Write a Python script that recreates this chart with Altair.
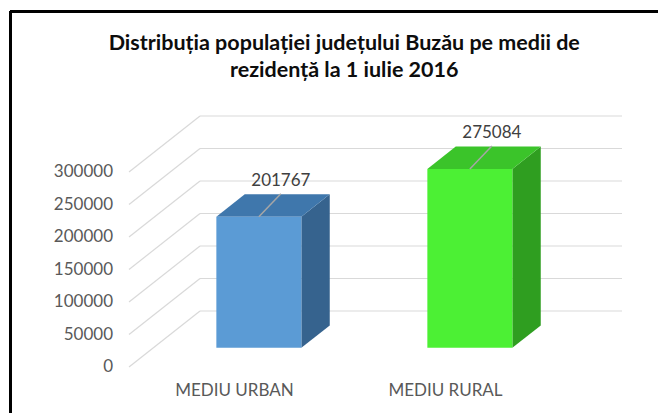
import altair as alt
import pandas as pd

# ---- data ----
categories = ["MEDIU URBAN", "MEDIU RURAL"]
values = [201767, 275084]
y_ticks = [0, 50000, 100000, 150000, 200000, 250000, 300000]
title_lines = ["Distribuția populației județului Buzău pe medii de",
               "rezidență la 1 iulie 2016"]

front_colors = ["#5B9BD5", "#4CF034"]
top_colors = ["#3F77AC", "#3BC42A"]
side_colors = ["#36638E", "#2F9E20"]

# ---- layout / pseudo-3D geometry (pixels) ----
PAD_L, PAD_T = 2.5, 3.5          # plot origin inside the 8px page margin
W, H = 647.5, 414                # plot area (runs to the right edge / below the bottom like the crop)
FLOOR_LEFT = 129 - 8 - PAD_L     # front-left corner of floor, local px
ZERO_Y = 367 - 8 - PAD_T         # front baseline (value 0), local px
SLOT = 211.0                     # px per category
K = 32.5 / 50000                 # px per unit of value
DX_PX, DY_PX = 71.0, 56.0        # full depth offset of the back wall
ZF, ZB = 0.343, 0.743            # bar front / back depth
HALF_W = 42.5 / SLOT             # half bar width (slot units)

DXu = DX_PX / SLOT
DYv = DY_PX / K

x_min = -0.5 + (0 - FLOOR_LEFT) / SLOT
x_max = -0.5 + (W - FLOOR_LEFT) / SLOT
y_max = ZERO_Y / K
y_min = (ZERO_Y - H) / K

xs = alt.Scale(domain=[x_min, x_max], nice=False, zero=False)
ys = alt.Scale(domain=[y_min, y_max], nice=False, zero=False)

# ---- tables built from the arrays ----
ticks = pd.DataFrame({"t": y_ticks})
ticks["xl"] = -0.5
ticks["xb"] = -0.5 + DXu
ticks["xr"] = 1.5 + DXu
ticks["yb"] = ticks["t"] + DYv
ticks["label"] = ticks["t"].astype(str)

bars = pd.DataFrame({"cat": categories, "v": values, "i": range(len(categories))})
bars["x0"] = bars["i"] - HALF_W + ZF * DXu
bars["x1"] = bars["i"] + HALF_W + ZF * DXu
bars["y0"] = ZF * DYv
bars["y1"] = bars["v"] + ZF * DYv
bars["lx"] = bars["i"] + ZF * DXu
bars["lx2"] = bars["lx"] + 22 / SLOT
bars["ly2"] = bars["y1"] + 23 / K
bars["zero"] = 0
bars["label"] = bars["v"].astype(str)

rows = []
for i, (c, v) in enumerate(zip(categories, values)):
    for z in (ZF, ZB):
        rows.append({"cat": c, "sx": i + HALF_W + z * DXu, "sy": z * DYv, "sy2": v + z * DYv,
                     "ty": v + z * DYv, "tx": i - HALF_W + z * DXu, "tx2": i + HALF_W + z * DXu})
faces = pd.DataFrame(rows)

grid = "#D9D9D9"
X = lambda f: alt.X(f, scale=xs, axis=None)
Y = lambda f: alt.Y(f, scale=ys, axis=None)

# chart frame (top and left edges, as in the cropped reference)
frame_top = alt.Chart(ticks).mark_rule(color="black", strokeWidth=3).encode(
    x=alt.X(datum=x_min, scale=xs, axis=None), x2=alt.X2(datum=x_max + 0.1),
    y=alt.Y(datum=y_max, scale=ys, axis=None))
frame_left = alt.Chart(ticks).mark_rule(color="black", strokeWidth=3).encode(
    x=alt.X(datum=x_min, scale=xs, axis=None),
    y=alt.Y(datum=y_min, scale=ys, axis=None), y2=alt.Y2(datum=y_max))

back_lines = alt.Chart(ticks).mark_rule(color=grid, strokeWidth=1.2).encode(
    x=X("xb:Q"), x2="xr:Q", y=Y("yb:Q"))

side_lines = alt.Chart(ticks).mark_rule(color=grid, strokeWidth=1.2).encode(
    x=X("xl:Q"), x2="xb:Q", y=Y("t:Q"), y2="yb:Q")

tick_labels = alt.Chart(ticks).mark_text(
    align="right", baseline="middle", dx=-16, font="Lato", fontSize=17, color="#595959"
).encode(x=X("xl:Q"), y=Y("t:Q"), text="label:N")

side = alt.Chart(faces).mark_area(interpolate="linear", opacity=1).encode(
    x=X("sx:Q"), y=Y("sy:Q"), y2="sy2:Q",
    color=alt.Color("cat:N", scale=alt.Scale(domain=categories, range=side_colors), legend=None))

top = alt.Chart(faces).mark_area(orient="horizontal", interpolate="linear", opacity=1).encode(
    y=Y("ty:Q"), x=X("tx:Q"), x2="tx2:Q",
    color=alt.Color("cat:N", scale=alt.Scale(domain=categories, range=top_colors), legend=None))

front = alt.Chart(bars).mark_rect().encode(
    x=X("x0:Q"), x2="x1:Q", y=Y("y0:Q"), y2="y1:Q",
    color=alt.Color("cat:N", scale=alt.Scale(domain=categories, range=front_colors), legend=None))

leaders = alt.Chart(bars).mark_rule(color="#A6A6A6", strokeWidth=1.5).encode(
    x=X("lx:Q"), x2="lx2:Q", y=Y("y1:Q"), y2="ly2:Q")

value_labels = alt.Chart(bars).mark_text(
    baseline="middle", dy=-13, font="Lato", fontSize=17, color="#404040"
).encode(x=X("lx2:Q"), y=Y("ly2:Q"), text="label:N")

cat_labels = alt.Chart(bars).mark_text(
    baseline="middle", dy=24, font="Lato", fontSize=17, color="#595959"
).encode(x=X("i:Q"), y=Y("zero:Q"), text="cat:N")

chart = alt.layer(
    frame_top, frame_left, back_lines, side_lines, tick_labels, side, top, front,
    leaders, value_labels, cat_labels
).resolve_scale(color="independent").properties(
    width=W, height=H,
    background="white",
    autosize=alt.AutoSizeParams(type="none"),
    padding={"left": PAD_L, "top": PAD_T, "right": 0, "bottom": 0},
    title=alt.Title(text=title_lines, font="Lato", fontSize=21.5, fontWeight="bold",
                    color="#0D0D0D", anchor="middle", frame="group", dx=10,
                    baseline="alphabetic", lineHeight=26.5, offset=-88),
).configure_view(stroke=None)

chart.save("out.html", embed_options={"renderer": "svg", "actions": False})
